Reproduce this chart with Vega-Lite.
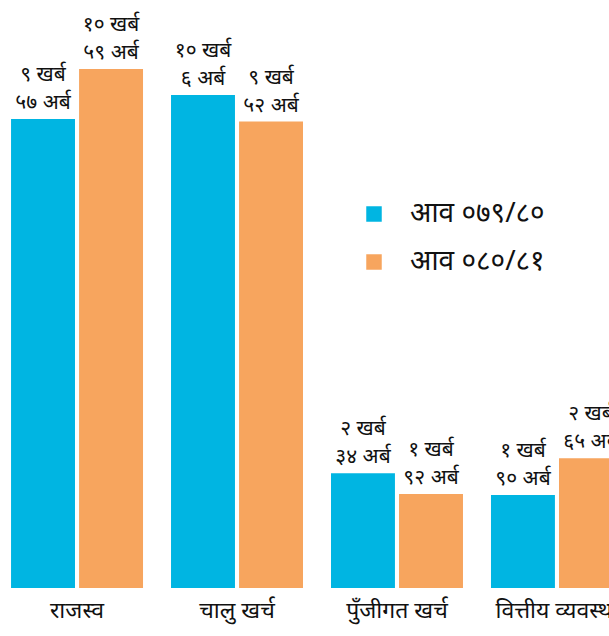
{
  "$schema": "https://vega.github.io/schema/vega-lite/v6.json",
  "width": 634,
  "height": 588,
  "autosize": {"type": "none"},
  "padding": {"left": 0, "top": 0, "right": 0, "bottom": 48},
  "background": "white",
  "config": {"view": {"stroke": null}, "font": "Noto Sans"},
  "data": {
    "values": [
      {"category": "राजस्व", "year": "आव ०७९/८०", "value": 957, "label": "९ खर्ब\n५७ अर्ब"},
      {"category": "राजस्व", "year": "आव ०८०/८१", "value": 1059, "label": "१० खर्ब\n५९ अर्ब"},
      {"category": "चालु खर्च", "year": "आव ०७९/८०", "value": 1006, "label": "१० खर्ब\n६ अर्ब"},
      {"category": "चालु खर्च", "year": "आव ०८०/८१", "value": 952, "label": "९ खर्ब\n५२ अर्ब"},
      {"category": "पुँजीगत खर्च", "year": "आव ०७९/८०", "value": 234, "label": "२ खर्ब\n३४ अर्ब"},
      {"category": "पुँजीगत खर्च", "year": "आव ०८०/८१", "value": 192, "label": "१ खर्ब\n९२ अर्ब"},
      {"category": "वित्तीय व्यवस्था", "year": "आव ०७९/८०", "value": 190, "label": "१ खर्ब\n९० अर्ब"},
      {"category": "वित्तीय व्यवस्था", "year": "आव ०८०/८१", "value": 265, "label": "२ खर्ब\n६५ अर्ब"}
    ]
  },
  "encoding": {
    "x": {
      "field": "category", "type": "nominal", "sort": null,
      "scale": {"paddingInner": 0.175, "paddingOuter": 0.069},
      "axis": {"title": null, "domain": false, "ticks": false, "labelAngle": 0, "labelFontSize": 23, "labelColor": "#111", "labelPadding": 11, "labelFont": "Noto Sans"}
    },
    "xOffset": {"field": "year", "type": "nominal", "sort": null, "scale": {"paddingInner": 0.06}},
    "y": {
      "field": "value", "type": "quantitative",
      "scale": {"domain": [0, 1200], "nice": false},
      "axis": null
    }
  },
  "layer": [
    {
      "mark": {"type": "bar"},
      "encoding": {
        "color": {
          "field": "year", "type": "nominal", "sort": null,
          "scale": {"range": ["#00b5e2", "#f7a55e"]},
          "legend": {
            "title": null, "orient": "none", "legendX": 360, "legendY": 200,
            "symbolType": "square", "symbolSize": 240, "symbolStrokeWidth": 0,
            "labelFontSize": 28, "labelColor": "#111", "labelOffset": 22,
            "rowPadding": 20, "labelFont": "Noto Sans"
          }
        }
      }
    },
    {
      "mark": {"type": "text", "baseline": "bottom", "dy": -34, "fontSize": 21, "lineBreak": "\n", "lineHeight": 28, "color": "#111"},
      "encoding": {"text": {"field": "label"}}
    }
  ]
}
